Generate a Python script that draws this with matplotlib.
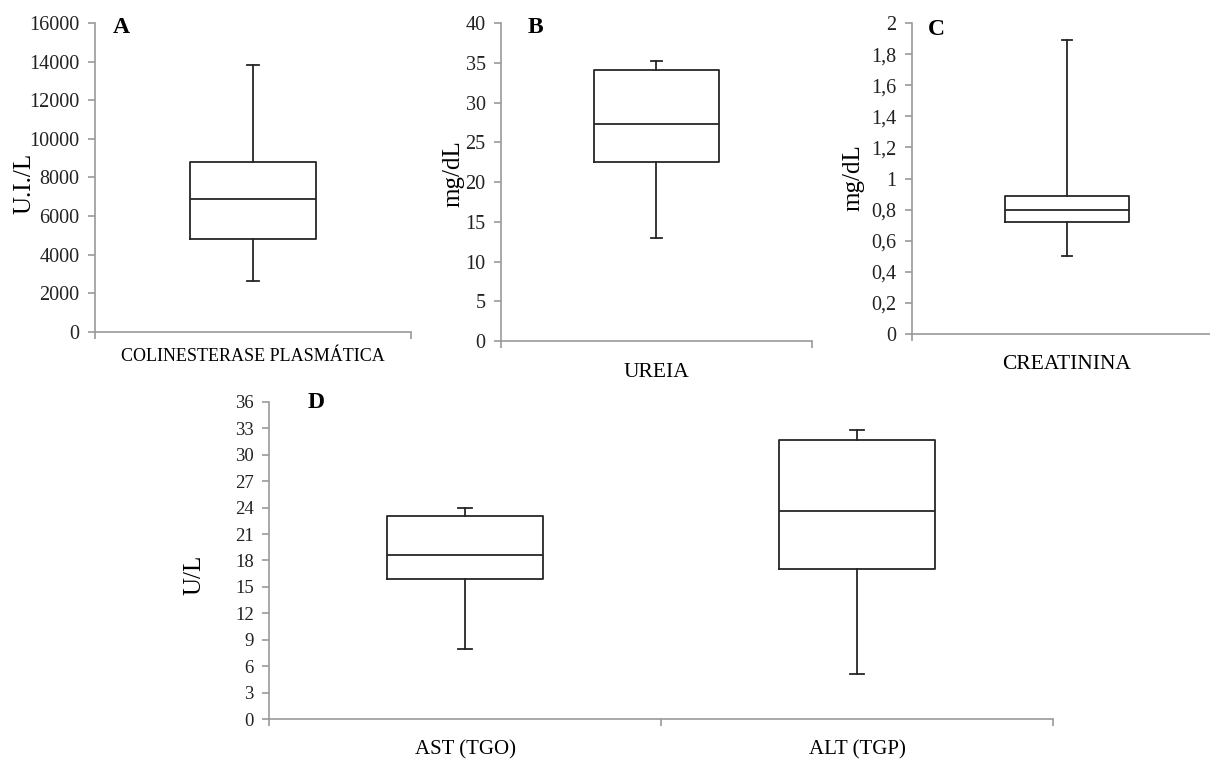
#!/usr/bin/env python3
import matplotlib.pyplot as plt
from matplotlib.ticker import FuncFormatter
from matplotlib.transforms import offset_copy

OUTPUT_FILE = "out.png"

# box statistics: (whisker low, Q1, median, Q3, whisker high)
col_stats = [2650, 4800, 6900, 8800, 13800]
ureia_stats = [13.0, 22.5, 27.3, 34.1, 35.2]
creat_stats = [0.50, 0.72, 0.80, 0.89, 1.89]
ast_stats = [8.0, 15.9, 18.6, 23.0, 24.0]
alt_stats = [5.1, 17.0, 23.6, 31.7, 32.8]

col_label = "COLINESTERASE PLASMÁTICA"
ureia_label = "UREIA"
creat_label = "CREATININA"
liver_labels = ["AST (TGO)", "ALT (TGP)"]

AXIS_GRAY = "#9a9a9a"
BOX_COLOR = "#262626"
W, H = 1210, 759

plt.rcParams["font.family"] = ["Liberation Serif", "DejaVu Serif"]


def to_bxp(stats, label):
    lo, q1, med, q3, hi = stats
    return {"whislo": lo, "q1": q1, "med": med, "q3": q3, "whishi": hi,
            "fliers": [], "label": label}


def draw_panel(fig, ax, stats_list, labels, ymax, step, ylabel, letter,
               label_size, label_drop, letter_pos, ylabel_pos,
               tick_size=14.5, comma=False):
    n = len(stats_list)
    data = [to_bxp(s, l) for s, l in zip(stats_list, labels)]
    line = dict(color=BOX_COLOR, linewidth=1.3)
    ax.bxp(data, positions=[i + 0.5 for i in range(n)], widths=0.4,
           showfliers=False, patch_artist=False,
           boxprops=line, whiskerprops=line, capprops=line,
           medianprops=line, capwidths=0.035)
    ax.set_xlim(0, n)
    ax.set_ylim(0, ymax)
    ax.set_yticks([i * step for i in range(int(round(ymax / step)) + 1)])
    if comma:
        ax.yaxis.set_major_formatter(
            FuncFormatter(lambda v, p: f"{v:g}".replace(".", ",")))
    # category labels centred under boxes, ticks at boundaries
    ax.set_xticks(range(n + 1))
    ax.set_xticklabels([""] * (n + 1))
    trans = offset_copy(ax.get_xaxis_transform(), fig=fig,
                        y=-label_drop, units="dots")
    for i, lab in enumerate(labels):
        ax.text(i + 0.5, 0, lab, transform=trans,
                ha="center", va="top", fontsize=label_size)
    for side in ("top", "right"):
        ax.spines[side].set_visible(False)
    for side in ("left", "bottom"):
        ax.spines[side].set_color(AXIS_GRAY)
        ax.spines[side].set_linewidth(1.2)
    ax.tick_params(axis="both", colors=AXIS_GRAY, length=5, width=1.2,
                   labelcolor="#222222", labelsize=tick_size)
    ax.tick_params(axis="y", pad=6)
    # y label and panel letter placed in figure pixels
    fig.text(ylabel_pos[0] / W, 1 - ylabel_pos[1] / H, ylabel,
             rotation=90, ha="center", va="center", fontsize=18)
    fig.text(letter_pos[0] / W, 1 - letter_pos[1] / H, letter,
             fontsize=17, fontweight="bold", ha="left", va="top")


fig = plt.figure(figsize=(12.1, 7.59), dpi=100)

ax_a = fig.add_axes([0.0785, 0.5626, 0.2612, 0.4071])
draw_panel(fig, ax_a, [col_stats], [col_label], 16000, 2000, "U.I./L", "A",
           13, 16, (113, 17), (24, 183))

ax_b = fig.add_axes([0.4140, 0.5507, 0.2570, 0.4190])
draw_panel(fig, ax_b, [ureia_stats], [ureia_label], 40, 5, "mg/dL", "B",
           15.5, 22, (528, 17), (453, 174))

ax_c = fig.add_axes([0.7537, 0.5599, 0.2562, 0.4098])
draw_panel(fig, ax_c, [creat_stats], [creat_label], 2, 0.2, "mg/dL", "C",
           15.5, 21, (928, 19), (853, 178), comma=True)

ax_d = fig.add_axes([0.2223, 0.0527, 0.6480, 0.4177])
draw_panel(fig, ax_d, [ast_stats, alt_stats], liver_labels, 36, 3, "U/L", "D",
           15, 21, (308, 392), (194, 575), tick_size=13.5)

fig.savefig(OUTPUT_FILE, dpi=100)
print(f"Plot saved to {OUTPUT_FILE}")
